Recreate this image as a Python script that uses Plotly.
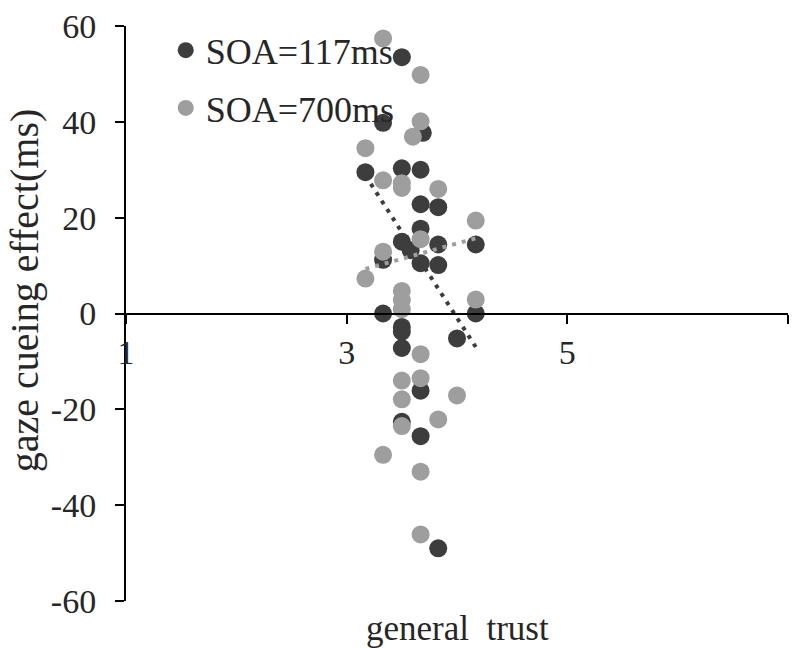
import plotly.graph_objects as go

# ---- data ----
soa117_x = [3.50, 3.33, 3.69, 3.17, 3.50, 3.67, 3.67, 3.83, 3.67, 3.50, 3.58, 3.83, 4.17,
            3.33, 3.67, 3.83, 3.33, 4.17, 3.50, 3.50, 3.50, 4.00, 3.67, 3.50, 3.67, 3.83]
soa117_y = [53.5, 39.8, 37.7, 29.5, 30.3, 30.0, 22.8, 22.2, 17.7, 15.0, 13.2, 14.4, 14.4,
            11.2, 10.5, 10.1, 0.0, 0.0, -2.8, -3.8, -7.2, -5.2, -16.1, -22.6, -25.6, -49.0]

soa700_x = [3.33, 3.67, 3.67, 3.60, 3.17, 3.33, 3.50, 3.50, 3.83, 4.17, 3.67, 3.33, 3.17,
            3.50, 3.50, 3.50, 4.17, 3.67, 3.50, 3.67, 4.00, 3.50, 3.50, 3.83, 3.33, 3.67, 3.67]
soa700_y = [57.4, 49.8, 40.1, 36.9, 34.5, 27.8, 27.2, 26.2, 26.0, 19.4, 15.5, 12.9, 7.3,
            4.7, 2.8, 0.9, 2.9, -8.5, -14.0, -13.5, -17.1, -17.9, -23.5, -22.1, -29.5, -33.0, -46.1]

trend_x = [3.17, 4.17]
trend117_y = [28.8, -7.0]
trend700_y = [9.3, 15.7]

x_ticks = [1, 3, 5, 7]
y_ticks = [-60, -40, -20, 0, 20, 40, 60]

series_names = ["SOA=117ms", "SOA=700ms"]
x_title = "general  trust"
y_title = "gaze cueing effect(ms)"

DARK = "#3d3d3d"
LIGHT = "#9e9e9e"
FONT = "Liberation Serif"
TXT = "#262626"

fig = go.Figure()
fig.add_trace(go.Scatter(x=soa117_x, y=soa117_y, mode="markers", name=series_names[0],
                         legendgroup="a",
                         marker=dict(color=DARK, size=18, line=dict(width=0))))
fig.add_trace(go.Scatter(x=soa700_x, y=soa700_y, mode="markers", name=series_names[1],
                         legendgroup="b",
                         marker=dict(color=LIGHT, size=18, line=dict(width=0))))
fig.add_trace(go.Scatter(x=trend_x, y=trend117_y, mode="lines", showlegend=False,
                         line=dict(color=DARK, width=4, dash="4px,6px")))
fig.add_trace(go.Scatter(x=trend_x, y=trend700_y, mode="lines", showlegend=False,
                         line=dict(color=LIGHT, width=4, dash="4px,6px")))

fig.update_layout(
    width=796, height=648,
    margin=dict(l=126, r=8, t=20, b=47),
    paper_bgcolor="white", plot_bgcolor="white",
    font=dict(family=FONT, size=34, color=TXT),
    showlegend=True,
    legend=dict(x=0.060, y=1.01, xanchor="left", yanchor="top",
                bgcolor="rgba(0,0,0,0)", traceorder="grouped", tracegroupgap=8,
                font=dict(family=FONT, size=36, color=TXT)),
    xaxis=dict(range=[1, 7], tickvals=x_ticks, ticktext=[str(v) for v in x_ticks],
               showgrid=False, zeroline=False, showline=True, linecolor="black", linewidth=2,
               ticks="outside", ticklen=9, tickwidth=2, tickcolor="black",
               anchor="free", position=0.5, ticklabelstandoff=0,
               tickfont=dict(family=FONT, size=34, color=TXT)),
    yaxis=dict(range=[-60, 60], tickvals=y_ticks, ticktext=[str(v) for v in y_ticks],
               showgrid=False, zeroline=False, showline=True, linecolor="black", linewidth=2,
               ticks="outside", ticklen=9, tickwidth=2, tickcolor="black",
               ticklabelstandoff=12,
               tickfont=dict(family=FONT, size=34, color=TXT)),
    annotations=[
        dict(text=x_title, xref="paper", yref="paper", x=0.5, y=-0.047,
             xanchor="center", yanchor="middle", showarrow=False,
             font=dict(family=FONT, size=35, color=TXT)),
        dict(text=y_title, xref="paper", yref="paper", x=-0.153, y=0.54,
             xanchor="center", yanchor="middle", textangle=-90, showarrow=False,
             font=dict(family=FONT, size=40, color=TXT)),
    ],
)

fig.write_html("out.html")
